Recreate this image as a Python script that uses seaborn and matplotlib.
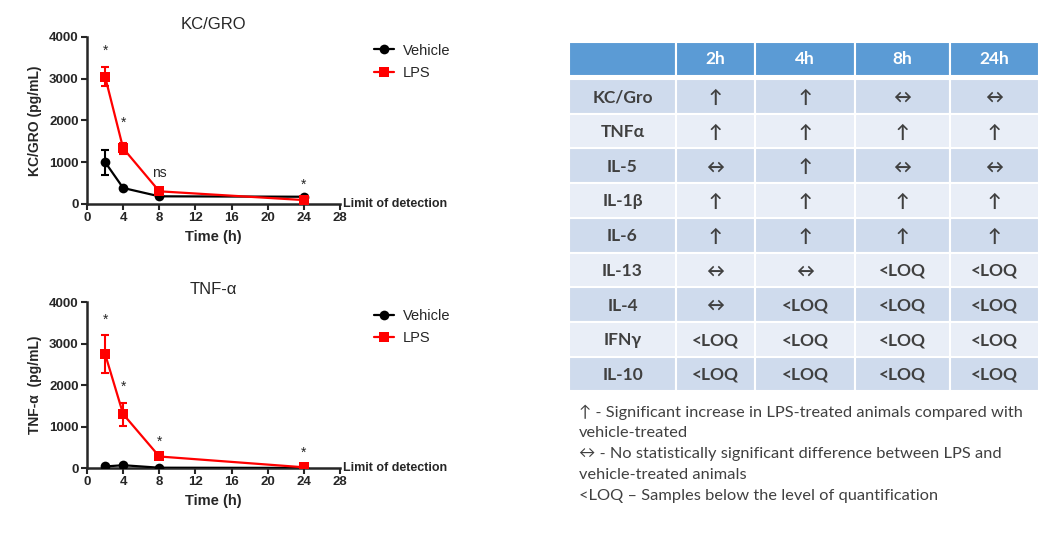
import matplotlib
matplotlib.use("Agg")
import matplotlib.pyplot as plt
import matplotlib.patches as mpatches
import pandas as pd
import seaborn as sns

# time points (h)
times = [2, 4, 8, 24]

# KC/GRO panel (pg/mL)
kc_vehicle = [1000, 380, 180, 170]
kc_vehicle_err = [300, 0, 0, 0]
kc_lps = [3050, 1330, 300, 90]
kc_lps_err = [220, 130, 0, 0]
kc_marks = ["*", "*", "ns", "*"]
kc_mark_y = [3500, 1780, 560, 300]

# TNF-alpha panel (pg/mL)
tnf_vehicle = [40, 70, 10, 5]
tnf_vehicle_err = [0, 0, 0, 0]
tnf_lps = [2750, 1300, 280, 20]
tnf_lps_err = [450, 280, 0, 0]
tnf_marks = ["*", "*", "*", "*"]
tnf_mark_y = [3400, 1800, 470, 190]

# summary table
col_labels = ["2h", "4h", "8h", "24h"]
row_labels = ["KC/Gro", "TNFα", "IL-5", "IL-1β", "IL-6", "IL-13", "IL-4", "IFNγ", "IL-10"]
cells = [
    ["↑", "↑", "↔", "↔"],
    ["↑", "↑", "↑", "↑"],
    ["↔", "↑", "↔", "↔"],
    ["↑", "↑", "↑", "↑"],
    ["↑", "↑", "↑", "↑"],
    ["↔", "↔", "<LOQ", "<LOQ"],
    ["↔", "<LOQ", "<LOQ", "<LOQ"],
    ["<LOQ", "<LOQ", "<LOQ", "<LOQ"],
    ["<LOQ", "<LOQ", "<LOQ", "<LOQ"],
]
notes = [
    "↑ - Significant increase in LPS-treated animals compared with",
    "vehicle-treated",
    "↔ - No statistically significant difference between LPS and",
    "vehicle-treated animals",
    "<LOQ – Samples below the level of quantification",
]

sns.set_style("ticks")
plt.rcParams["font.family"] = ["Liberation Sans", "DejaVu Sans"]

fig = plt.figure(figsize=(10.61, 5.35), dpi=100)

palette = {"Vehicle": "black", "LPS": "#ff0000"}
markers = {"Vehicle": "o", "LPS": "s"}


def draw_panel(rect, title, ylabel, veh, veh_err, lps, lps_err, marks, mark_y):
    ax = fig.add_axes(rect)
    df = pd.DataFrame({
        "time": times * 2,
        "value": veh + lps,
        "group": ["Vehicle"] * len(times) + ["LPS"] * len(times),
    })
    sns.lineplot(data=df, x="time", y="value", hue="group", style="group",
                 markers=markers, dashes=False, palette=palette, ax=ax,
                 linewidth=1.6, markersize=7, markeredgewidth=0, zorder=3)
    ax.errorbar(times, veh, yerr=veh_err, fmt="none", ecolor="black",
                elinewidth=1.5, capsize=3, capthick=1.5, zorder=2)
    ax.errorbar(times, lps, yerr=lps_err, fmt="none", ecolor="#ff0000",
                elinewidth=1.5, capsize=3, capthick=1.5, zorder=2)
    for t, m, y in zip(times, marks, mark_y):
        ax.text(t, y, m, ha="center", va="bottom", fontsize=10)

    ax.set_xlim(0, 28)
    ax.set_ylim(0, 4000)
    ax.set_xticks(range(0, 29, 4))
    ax.set_yticks(range(0, 4001, 1000))
    ax.set_title(title, fontsize=12, pad=6)
    ax.set_xlabel("Time (h)", fontsize=10.5, fontweight="bold", labelpad=4)
    ax.set_ylabel(ylabel, fontsize=10, fontweight="bold", labelpad=5)
    ax.tick_params(axis="both", labelsize=9.5, width=1.5, length=4, pad=2)
    for lab in ax.get_xticklabels() + ax.get_yticklabels():
        lab.set_fontweight("bold")
    sns.despine(ax=ax)
    for s in ["left", "bottom"]:
        ax.spines[s].set_linewidth(1.8)
    ax.text(28.3, 0, "Limit of detection", fontsize=9, fontweight="bold",
            ha="left", va="center")

    h, l = ax.get_legend_handles_labels()
    ax.legend(h, l, loc="upper left", bbox_to_anchor=(1.11, 0.995),
              frameon=False, fontsize=10.5, handlelength=1.4,
              labelspacing=0.6, borderaxespad=0, handletextpad=0.6)
    return ax


draw_panel([0.082, 0.619, 0.2385, 0.312], "KC/GRO", "KC/GRO (pg/mL)",
           kc_vehicle, kc_vehicle_err, kc_lps, kc_lps_err, kc_marks, kc_mark_y)
draw_panel([0.082, 0.125, 0.2385, 0.3105], "TNF-α", "TNF-α  (pg/mL)",
           tnf_vehicle, tnf_vehicle_err, tnf_lps, tnf_lps_err, tnf_marks, tnf_mark_y)

# table drawn in pixel coordinates on an overlay axes
tab = fig.add_axes([0, 0, 1, 1])
tab.set_xlim(0, 1061)
tab.set_ylim(535, 0)
tab.axis("off")

col_edges = [569, 676, 755, 855, 950, 1039]
header_top, header_bot = 42, 76
row_top = 79
row_h = 34.7
header_color = "#5b9bd5"
dark_row = "#cfdbed"
light_row = "#e9eef7"
text_color = "#404040"
table_fonts = ["Lato", "DejaVu Sans"]

for i in range(5):
    x0, x1 = col_edges[i], col_edges[i + 1]
    tab.add_patch(mpatches.Rectangle((x0, header_top), x1 - x0, header_bot - header_top,
                                     facecolor=header_color, edgecolor="white", linewidth=1.5))
    if i > 0:
        tab.text((x0 + x1) / 2, (header_top + header_bot) / 2, col_labels[i - 1],
                 ha="center", va="center", color="white", fontsize=12.5,
                 fontweight="bold", family=table_fonts)

for r, name in enumerate(row_labels):
    y0 = row_top + r * row_h
    color = dark_row if r % 2 == 0 else light_row
    row_vals = [name] + cells[r]
    for i in range(5):
        x0, x1 = col_edges[i], col_edges[i + 1]
        tab.add_patch(mpatches.Rectangle((x0, y0), x1 - x0, row_h,
                                         facecolor=color, edgecolor="white", linewidth=1.5))
        val = row_vals[i]
        arrow = val in ("↑", "↔")
        tab.text((x0 + x1) / 2, y0 + row_h / 2 + 1, val, ha="center", va="center",
                 color=text_color, fontsize=13 if arrow else 12.5,
                 fontweight="bold", family=table_fonts)

for k, line in enumerate(notes):
    tab.text(579, 412 + k * 21, line, ha="left", va="center", color=text_color,
             fontsize=11.8, family=table_fonts)

fig.savefig("out.png", dpi=100)
